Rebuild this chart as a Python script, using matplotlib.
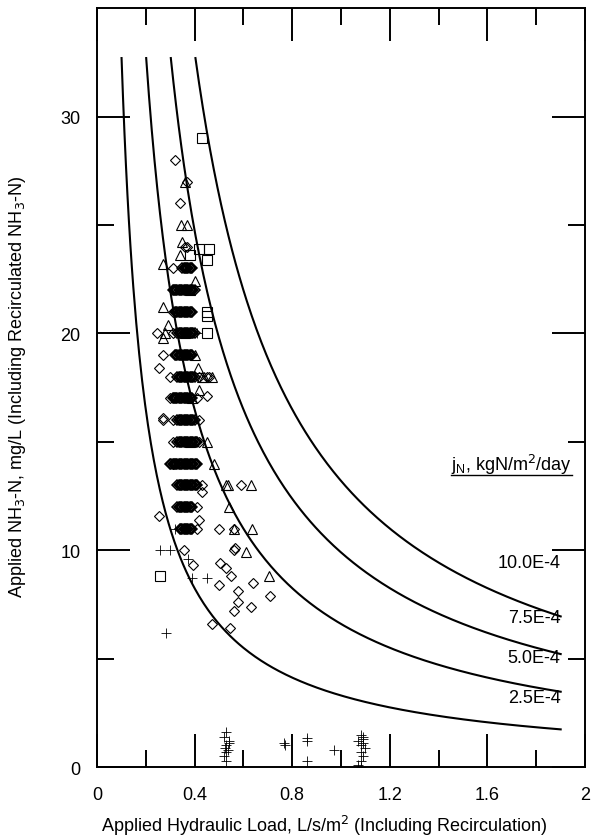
import numpy as np
import matplotlib
matplotlib.use("Agg")
import matplotlib.pyplot as plt
from matplotlib.lines import Line2D

plt.rcParams['font.family'] = ['Liberation Sans', 'DejaVu Sans']

# ---------------- data ----------------
# iso-flux lines: j_N levels and the product C*q
flux_labels = ["2.5E-4", "5.0E-4", "7.5E-4", "10.0E-4"]
flux_cq = [3.3, 6.6, 9.9, 13.2]          # concentration * hydraulic load along each line
label_conc = [3.2, 5.07, 6.9, 9.45]      # where each label sits
curve_top_conc = 32.7                     # curves start at this concentration
curve_end_load = 1.9

# open diamonds: scattered points
diam_x = [0.32, 0.37, 0.34, 0.36, 0.31, 0.245, 0.31, 0.27, 0.255, 0.30, 0.30, 0.31, 0.27, 0.31,
          0.27, 0.31, 0.31, 0.42, 0.42, 0.45, 0.41, 0.45, 0.42, 0.43, 0.43, 0.41, 0.255, 0.42, 0.41,
          0.59, 0.50, 0.56, 0.56, 0.565, 0.355, 0.395, 0.505, 0.53, 0.55, 0.50, 0.64, 0.58, 0.71,
          0.58, 0.56, 0.63, 0.47, 0.545, 0.37, 0.46]
diam_y = [28.0, 27.0, 26.0, 24.0, 23.0, 20.0, 20.0, 19.0, 18.4, 18.0, 17.0, 16.0, 16.0, 15.0,
          16.1, 14.0, 21.0, 16.0, 15.0, 17.1, 17.0, 18.0, 18.0, 13.0, 12.7, 12.0, 11.6, 11.4, 11.0,
          13.0, 11.0, 11.0, 10.0, 10.1, 10.0, 9.3, 9.4, 9.2, 8.8, 8.4, 8.5, 8.1, 7.9,
          7.6, 7.2, 7.4, 6.6, 6.4, 24.0, 18.0]

# dense clusters of diamonds on integer concentration rows (left / right load limits)
row_conc = [23, 22, 21, 20, 19, 18, 17, 16, 15, 14, 13, 12, 11]
row_load_lo = [0.35, 0.31, 0.32, 0.33, 0.32, 0.33, 0.31, 0.33, 0.33, 0.30, 0.33, 0.33, 0.34]
row_load_hi = [0.39, 0.40, 0.39, 0.40, 0.39, 0.40, 0.39, 0.40, 0.41, 0.41, 0.41, 0.39, 0.39]

# open triangles
tri_x = [0.36, 0.345, 0.37, 0.34, 0.35, 0.27, 0.40, 0.27, 0.29, 0.28, 0.27, 0.415, 0.43, 0.47,
         0.42, 0.45, 0.48, 0.53, 0.535, 0.63, 0.54, 0.56, 0.635, 0.61, 0.705, 0.38, 0.36, 0.40,
         0.39, 0.44, 0.38]
tri_y = [27.0, 25.0, 25.0, 23.6, 24.2, 23.2, 22.4, 21.2, 20.4, 20.0, 19.8, 18.4, 18.0, 18.0,
         17.4, 15.0, 14.0, 13.0, 13.0, 13.0, 12.0, 11.0, 11.0, 9.9, 8.8, 22.0, 20.0, 19.0,
         17.0, 18.0, 15.0]

# open squares
sq_x = [0.43, 0.42, 0.46, 0.45, 0.38, 0.45, 0.45, 0.45, 0.26]
sq_y = [29.0, 23.9, 23.9, 23.4, 23.6, 21.0, 20.0, 20.8, 8.8]

# plus signs
plus_x = [0.41, 0.32, 0.26, 0.30, 0.375, 0.39, 0.45, 0.285,
          0.53, 0.52, 0.54, 0.53, 0.525, 0.535, 0.53, 0.52, 0.53, 0.54,
          0.765, 0.77, 0.86, 0.86, 0.86, 0.97,
          1.08, 1.09, 1.07, 1.09, 1.08, 1.10, 1.08, 1.09, 1.08, 1.07, 1.09, 1.08]
plus_y = [20.0, 11.0, 10.0, 10.0, 9.6, 8.7, 8.7, 6.2,
          1.6, 1.4, 1.2, 1.0, 0.9, 0.8, 0.7, 0.5, 0.3, 1.1,
          1.1, 1.0, 1.35, 1.2, 0.3, 0.8,
          1.5, 1.3, 1.2, 1.1, 1.0, 0.9, 0.7, 0.5, 0.3, 0.1, 1.4, 0.0]

x_major = [0, 0.4, 0.8, 1.2, 1.6, 2.0]
x_major_labels = ["0", "0.4", "0.8", "1.2", "1.6", "2"]
x_minor = [0.2, 0.6, 1.0, 1.4, 1.8]
y_major = [0, 10, 20, 30]
y_minor = [5, 15, 25]

xlabel = "Applied Hydraulic Load, L/s/m$^2$ (Including Recirculation)"
ylabel = "Applied NH$_3$-N, mg/L (Including Recirculated NH$_3$-N)"
legend_title = "j$_\\mathregular{N}$, kgN/m$^2$/day"

FS = 13

# ---------------- figure ----------------
fig = plt.figure(figsize=(5.91, 8.37), dpi=100)
ax = fig.add_axes([0.164, 0.0824, 0.826, 0.9066])
ax.set_xlim(0, 2)
ax.set_ylim(0, 35)

# iso-lines
for cq in flux_cq:
    q = np.linspace(cq / curve_top_conc, curve_end_load, 300)
    ax.plot(q, cq / q, color='black', lw=1.5, zorder=2)

mk = dict(linestyle='none', markerfacecolor='none', markeredgecolor='black', zorder=3)

# cluster diamonds
cx, cy = [], []
for c, lo, hi in zip(row_conc, row_load_lo, row_load_hi):
    n = int(round((hi - lo) / 0.005)) + 1
    for k in range(n):
        cx.append(lo + 0.005 * k)
        cy.append(c)
ax.plot(cx, cy, marker='D', ms=5.2, mew=1.1, **mk)
ax.plot(diam_x, diam_y, marker='D', ms=5.2, mew=0.8, **mk)
ax.plot(tri_x, tri_y, marker='^', ms=7, mew=0.8, **mk)
ax.plot(sq_x, sq_y, marker='s', ms=7, mew=0.8, **mk)
ax.plot(plus_x, plus_y, marker='+', ms=7, mew=0.6, **mk)

# labels of iso-lines
for lab, yc in zip(flux_labels, label_conc):
    ax.text(1.9, yc, lab, ha='right', va='center', fontsize=FS)

t = ax.text(1.45, 13.7, legend_title, ha='left', va='baseline', fontsize=FS)
fig.canvas.draw()
bb = t.get_window_extent(renderer=fig.canvas.get_renderer())
inv = ax.transData.inverted()
(x0, _), (x1, _) = inv.transform([(bb.x0, bb.y0), (bb.x1, bb.y0)])
ax.add_line(Line2D([x0, x1], [13.45, 13.45], color='black', lw=1.0))

# ticks
ax.set_xticks(x_major)
ax.set_xticklabels(x_major_labels)
ax.set_xticks(x_minor, minor=True)
ax.set_yticks(y_major)
ax.set_yticks(y_minor, minor=True)
ax.tick_params(which='both', direction='in', top=True, right=True, width=1.4, labelsize=FS)
ax.tick_params(which='major', length=24)
ax.tick_params(which='minor', length=12)
ax.tick_params(axis='x', which='major', pad=14)
ax.tick_params(axis='y', which='major', pad=12)
for s in ax.spines.values():
    s.set_linewidth(1.4)

ax.set_xlabel(xlabel, fontsize=FS)
ax.set_ylabel(ylabel, fontsize=FS)
ax.xaxis.set_label_coords(0.467, -0.061)
ax.yaxis.set_label_coords(-0.141, 0.502)

fig.savefig("out.png", dpi=100)
